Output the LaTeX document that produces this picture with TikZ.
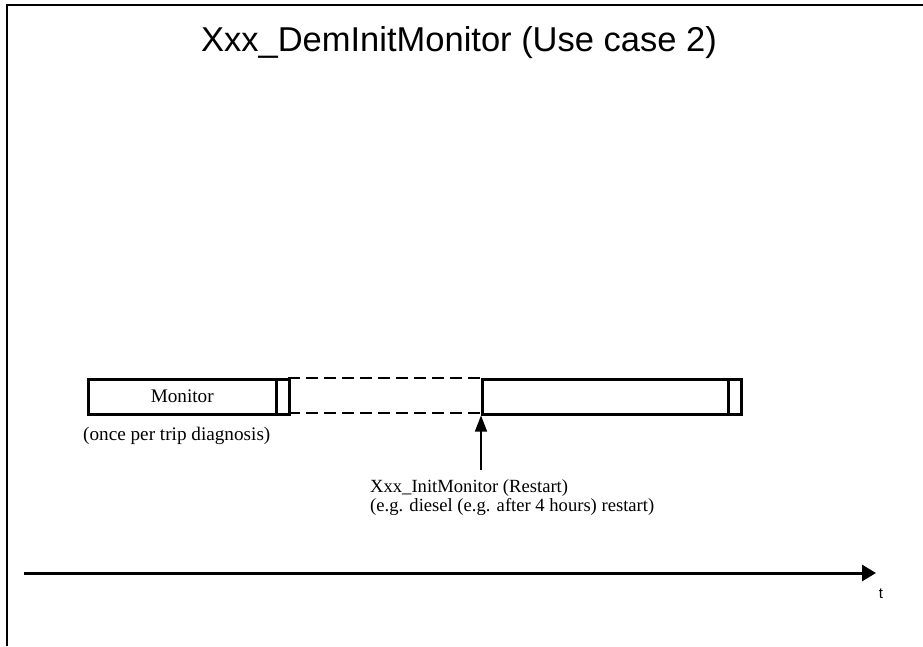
\documentclass[tikz,border=0pt]{standalone}
\usepackage{fontspec}
\setmainfont{Liberation Serif}
\newfontfamily\arialfont{Liberation Sans}
\usetikzlibrary{arrows.meta}
\begin{document}
\begin{tikzpicture}[x=1pt,y=-1pt,
  frameline/.style={line width=1.5pt},
  boxline/.style={line width=2.5pt},
  dashline/.style={line width=2.5pt, dash pattern=on 12pt off 6pt},
  txt/.style={font=\fontsize{19.2}{19.5}\selectfont, inner sep=0pt},
  smalltxt/.style={font=\fontsize{18.6}{19}\selectfont, inner sep=0pt},
]
\useasboundingbox (0,0) rectangle (923,646);
% frame
\coordinate (ftr) at (923,5);
\coordinate (ftl) at (7,5);
\coordinate (fbl) at (7,646);
\draw[frameline] (ftr) -- (ftl) -- (fbl);
% title
\node[inner sep=0pt, font=\arialfont\fontsize{34.5}{36}\selectfont] (title) at (459,43) {Xxx\_DemInitMonitor (Use case 2)};
% monitor box
\node[draw, boxline, minimum width=188pt, minimum height=35pt, inner sep=0pt, anchor=north west] (mon) at (87,378) {};
\node[txt, anchor=base] (montext) at ([yshift=-6pt]mon.center) {Monitor};
\node[draw, boxline, minimum width=13pt, minimum height=35pt, inner sep=0pt, anchor=north west] (end1) at (275,378) {};
% dashed part
\coordinate (d1) at (288,378);
\coordinate (d2) at (481,378);
\coordinate (d3) at (288,413);
\coordinate (d4) at (481,413);
\draw[dashline] (d1) -- (d2);
\draw[dashline] (d3) -- (d4);
% second box
\node[draw, boxline, minimum width=246pt, minimum height=35pt, inner sep=0pt, anchor=north west] (mon2) at (481,378) {};
\node[draw, boxline, minimum width=13pt, minimum height=35pt, inner sep=0pt, anchor=north west] (end2) at (727,378) {};
% labels
\node[txt, anchor=north west] (once) at (83,427) {(once per trip diagnosis)};
\coordinate (arrbot) at (481,470);
\draw[line width=1.5pt, -{Triangle[length=16pt,width=12pt]}] (arrbot) -- (mon2.south west);
\node[smalltxt, anchor=north west, align=left] (restart) at (370,479) {Xxx\_InitMonitor (Restart)\\(e.g. diesel (e.g. after 4 hours) restart)};
% time axis
\coordinate (ax0) at (24,573);
\coordinate (ax1) at (876,573);
\draw[line width=3pt, -{Triangle[length=14pt,width=16pt]}] (ax0) -- (ax1);
\node[inner sep=0pt, font=\arialfont\fontsize{15}{16}\selectfont] (t) at (881,594) {t};
\end{tikzpicture}
\end{document}
